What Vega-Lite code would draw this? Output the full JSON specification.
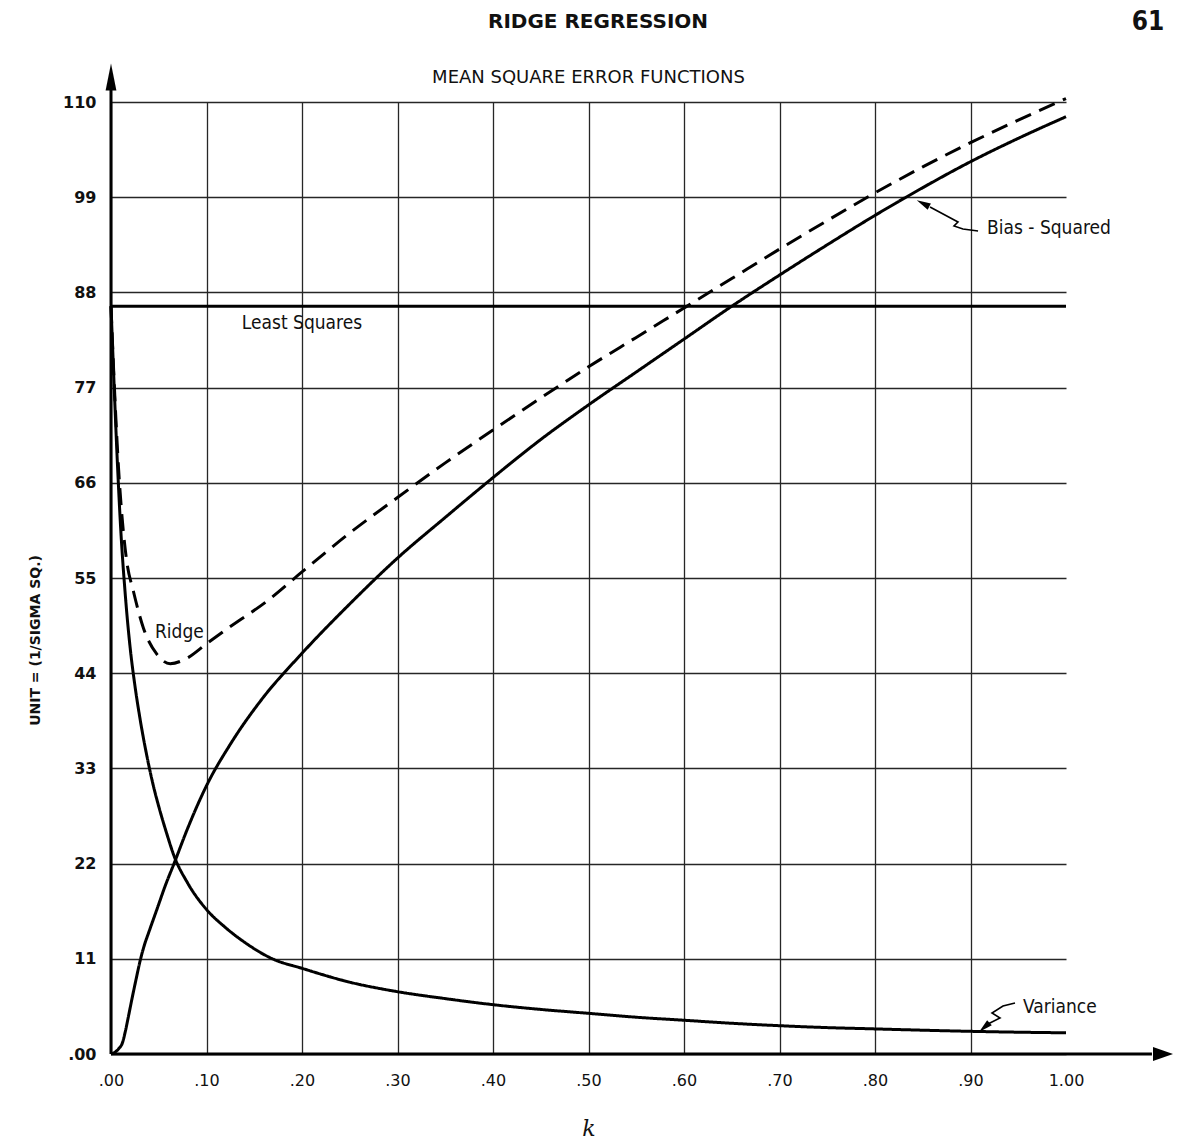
{
  "$schema": "https://vega.github.io/schema/vega-lite/v6.json",
  "width": 955,
  "height": 952,
  "autosize": {"type": "none"},
  "padding": {"left": 111, "top": 102, "right": 137, "bottom": 93},
  "background": "white",
  "config": {"view": {"stroke": null}},
  "title": {
    "text": "MEAN SQUARE ERROR FUNCTIONS",
    "frame": "group",
    "anchor": "middle",
    "offset": -78,
    "font": "DejaVu Sans",
    "fontSize": 18,
    "fontWeight": "normal",
    "color": "#111"
  },
  "datasets": {
    "curves": [
      {"series": "Least Squares", "k": 0, "v": 86.4},
      {"series": "Least Squares", "k": 1.0, "v": 86.4},
      {"series": "Variance", "k": 0, "v": 86.4},
      {"series": "Variance", "k": 0.003, "v": 78},
      {"series": "Variance", "k": 0.006, "v": 70},
      {"series": "Variance", "k": 0.01, "v": 61},
      {"series": "Variance", "k": 0.015, "v": 53},
      {"series": "Variance", "k": 0.02, "v": 47},
      {"series": "Variance", "k": 0.025, "v": 42.6},
      {"series": "Variance", "k": 0.03, "v": 39},
      {"series": "Variance", "k": 0.038, "v": 34.2},
      {"series": "Variance", "k": 0.045, "v": 30.7},
      {"series": "Variance", "k": 0.05, "v": 28.6},
      {"series": "Variance", "k": 0.058, "v": 25.6},
      {"series": "Variance", "k": 0.066, "v": 22.9},
      {"series": "Variance", "k": 0.08, "v": 19.8},
      {"series": "Variance", "k": 0.1, "v": 16.7},
      {"series": "Variance", "k": 0.12, "v": 14.6},
      {"series": "Variance", "k": 0.14, "v": 12.9},
      {"series": "Variance", "k": 0.169, "v": 11},
      {"series": "Variance", "k": 0.2, "v": 9.9},
      {"series": "Variance", "k": 0.25, "v": 8.3},
      {"series": "Variance", "k": 0.3, "v": 7.2},
      {"series": "Variance", "k": 0.35, "v": 6.4},
      {"series": "Variance", "k": 0.4, "v": 5.7},
      {"series": "Variance", "k": 0.45, "v": 5.15},
      {"series": "Variance", "k": 0.5, "v": 4.7},
      {"series": "Variance", "k": 0.55, "v": 4.25},
      {"series": "Variance", "k": 0.6, "v": 3.9},
      {"series": "Variance", "k": 0.65, "v": 3.55},
      {"series": "Variance", "k": 0.7, "v": 3.27},
      {"series": "Variance", "k": 0.75, "v": 3.05},
      {"series": "Variance", "k": 0.8, "v": 2.9},
      {"series": "Variance", "k": 0.85, "v": 2.75},
      {"series": "Variance", "k": 0.9, "v": 2.62},
      {"series": "Variance", "k": 0.95, "v": 2.52},
      {"series": "Variance", "k": 1.0, "v": 2.45},
      {"series": "Bias-Squared", "k": 0, "v": 0},
      {"series": "Bias-Squared", "k": 0.004, "v": 0.2},
      {"series": "Bias-Squared", "k": 0.008, "v": 0.6},
      {"series": "Bias-Squared", "k": 0.012, "v": 1.3},
      {"series": "Bias-Squared", "k": 0.015, "v": 2.6},
      {"series": "Bias-Squared", "k": 0.018, "v": 4.2},
      {"series": "Bias-Squared", "k": 0.022, "v": 6.4},
      {"series": "Bias-Squared", "k": 0.026, "v": 8.5},
      {"series": "Bias-Squared", "k": 0.031, "v": 11},
      {"series": "Bias-Squared", "k": 0.035, "v": 12.6},
      {"series": "Bias-Squared", "k": 0.04, "v": 14.2},
      {"series": "Bias-Squared", "k": 0.049, "v": 17},
      {"series": "Bias-Squared", "k": 0.057, "v": 19.5},
      {"series": "Bias-Squared", "k": 0.066, "v": 22},
      {"series": "Bias-Squared", "k": 0.08, "v": 26},
      {"series": "Bias-Squared", "k": 0.1, "v": 31},
      {"series": "Bias-Squared", "k": 0.125, "v": 35.8},
      {"series": "Bias-Squared", "k": 0.158, "v": 41},
      {"series": "Bias-Squared", "k": 0.2, "v": 46.3},
      {"series": "Bias-Squared", "k": 0.25, "v": 52},
      {"series": "Bias-Squared", "k": 0.3, "v": 57.3},
      {"series": "Bias-Squared", "k": 0.35, "v": 62},
      {"series": "Bias-Squared", "k": 0.4, "v": 66.6},
      {"series": "Bias-Squared", "k": 0.45, "v": 71},
      {"series": "Bias-Squared", "k": 0.5, "v": 75},
      {"series": "Bias-Squared", "k": 0.55, "v": 78.8},
      {"series": "Bias-Squared", "k": 0.6, "v": 82.6},
      {"series": "Bias-Squared", "k": 0.65, "v": 86.4},
      {"series": "Bias-Squared", "k": 0.7, "v": 90},
      {"series": "Bias-Squared", "k": 0.75, "v": 93.5},
      {"series": "Bias-Squared", "k": 0.8, "v": 96.9},
      {"series": "Bias-Squared", "k": 0.85, "v": 100.1},
      {"series": "Bias-Squared", "k": 0.9, "v": 103.1},
      {"series": "Bias-Squared", "k": 0.95, "v": 105.8},
      {"series": "Bias-Squared", "k": 1.0, "v": 108.3},
      {"series": "Ridge", "k": 0, "v": 86.4},
      {"series": "Ridge", "k": 0.004, "v": 76},
      {"series": "Ridge", "k": 0.008, "v": 67.5},
      {"series": "Ridge", "k": 0.012, "v": 61.5},
      {"series": "Ridge", "k": 0.0164, "v": 57},
      {"series": "Ridge", "k": 0.0234, "v": 53.5},
      {"series": "Ridge", "k": 0.034, "v": 49.2},
      {"series": "Ridge", "k": 0.048, "v": 46.2},
      {"series": "Ridge", "k": 0.062, "v": 45.1},
      {"series": "Ridge", "k": 0.079, "v": 45.7},
      {"series": "Ridge", "k": 0.1, "v": 47.4},
      {"series": "Ridge", "k": 0.125, "v": 49.4},
      {"series": "Ridge", "k": 0.163, "v": 52.3},
      {"series": "Ridge", "k": 0.2, "v": 55.7},
      {"series": "Ridge", "k": 0.25, "v": 60.2},
      {"series": "Ridge", "k": 0.3, "v": 64.3},
      {"series": "Ridge", "k": 0.35, "v": 68.3},
      {"series": "Ridge", "k": 0.4, "v": 72.1},
      {"series": "Ridge", "k": 0.45, "v": 75.8},
      {"series": "Ridge", "k": 0.5, "v": 79.4},
      {"series": "Ridge", "k": 0.55, "v": 82.8},
      {"series": "Ridge", "k": 0.6, "v": 86.2},
      {"series": "Ridge", "k": 0.65, "v": 89.6},
      {"series": "Ridge", "k": 0.7, "v": 93},
      {"series": "Ridge", "k": 0.75, "v": 96.3},
      {"series": "Ridge", "k": 0.8, "v": 99.5},
      {"series": "Ridge", "k": 0.85, "v": 102.5},
      {"series": "Ridge", "k": 0.9, "v": 105.3},
      {"series": "Ridge", "k": 0.95, "v": 107.9},
      {"series": "Ridge", "k": 1.0, "v": 110.4}
    ],
    "leaders": [
      {"leader": "bias", "ord": 1, "k": 0.8576, "v": 97.86},
      {"leader": "bias", "ord": 2, "k": 0.8869, "v": 96.13},
      {"leader": "bias", "ord": 3, "k": 0.8827, "v": 95.67},
      {"leader": "bias", "ord": 4, "k": 0.8921, "v": 95.32},
      {"leader": "bias", "ord": 5, "k": 0.9079, "v": 95.09},
      {"leader": "variance", "ord": 1, "k": 0.9466, "v": 5.89},
      {"leader": "variance", "ord": 2, "k": 0.934, "v": 5.55},
      {"leader": "variance", "ord": 3, "k": 0.9225, "v": 4.74},
      {"leader": "variance", "ord": 4, "k": 0.9309, "v": 4.16},
      {"leader": "variance", "ord": 5, "k": 0.9183, "v": 3.47},
      {"leader": "variance", "ord": 6, "k": 0.9141, "v": 3.12}
    ],
    "labels": [
      {"label": "Least Squares", "k": 0.137, "v": 84.5},
      {"label": "Ridge", "k": 0.046, "v": 48.8},
      {"label": "Bias - Squared", "k": 0.9173, "v": 95.44},
      {"label": "Variance", "k": 0.955, "v": 5.43}
    ],
    "header": [
      {"label": "RIDGE REGRESSION", "k": 0.51, "v": 119.24}
    ],
    "page": [
      {"label": "61", "k": 1.086, "v": 119.24}
    ]
  },
  "layer": [
    {
      "data": {"name": "curves"},
      "mark": {"type": "line", "color": "black", "strokeWidth": 3, "interpolate": "monotone"},
      "encoding": {
        "x": {
          "field": "k",
          "type": "quantitative",
          "scale": {"domain": [0, 1], "nice": false, "zero": false},
          "axis": {
            "title": "k",
            "values": [0, 0.1, 0.2, 0.3, 0.4, 0.5, 0.6, 0.7, 0.8, 0.9, 1.0],
            "labelExpr": "replace(format(datum.value, '.2f'), '0.', '.')",
            "grid": true,
            "gridColor": "#262626",
            "gridWidth": 1.3,
            "gridOpacity": {"condition": {"test": "datum.value > 0.95", "value": 0}, "value": 1},
            "domain": false,
            "ticks": false,
            "labelPadding": 18,
            "labelFlush": false,
            "labelOverlap": false,
            "labelBound": false,
            "labelFont": "DejaVu Sans",
            "labelFontSize": 16,
            "labelColor": "#111",
            "titleFont": "DejaVu Serif",
            "titleFontStyle": "italic",
            "titleFontWeight": "normal",
            "titleFontSize": 22,
            "titleColor": "#111",
            "titlePadding": 30
          }
        },
        "y": {
          "field": "v",
          "type": "quantitative",
          "scale": {"domain": [0, 110], "nice": false, "zero": false},
          "axis": {
            "title": "UNIT = (1/SIGMA SQ.)",
            "values": [0, 11, 22, 33, 44, 55, 66, 77, 88, 99, 110],
            "labelExpr": "datum.value == 0 ? '.00' : datum.label",
            "grid": true,
            "gridColor": "#262626",
            "gridWidth": 1.3,
            "domain": false,
            "ticks": false,
            "labelPadding": 15,
            "labelOverlap": false,
            "labelBound": false,
            "labelFlush": false,
            "labelFont": "DejaVu Sans",
            "labelFontSize": 16,
            "labelFontWeight": "bold",
            "labelColor": "#111",
            "titleFont": "DejaVu Sans",
            "titleFontSize": 14,
            "titleFontWeight": "bold",
            "titleColor": "#111",
            "titleX": -76,
            "titleY": 538,
            "titleAngle": 270,
            "titleAlign": "center",
            "titleBaseline": "middle"
          }
        },
        "detail": {"field": "series"},
        "strokeDash": {
          "field": "series",
          "type": "nominal",
          "scale": {"domain": ["Ridge", "Variance", "Bias-Squared", "Least Squares"], "range": [[17, 9], [1, 0], [1, 0], [1, 0]]},
          "legend": null
        }
      }
    },
    {
      "data": {"values": [{"part": "vertical axis line"}]},
      "mark": {"type": "rule", "color": "black", "strokeWidth": 3, "clip": false},
      "encoding": {
        "x": {"datum": 0},
        "y": {"datum": 0},
        "y2": {"datum": 112.5}
      }
    },
    {
      "data": {"values": [{"part": "horizontal axis line"}]},
      "mark": {"type": "rule", "color": "black", "strokeWidth": 3, "clip": false},
      "encoding": {
        "x": {"datum": 0},
        "x2": {"datum": 1.09},
        "y": {"datum": 0}
      }
    },
    {
      "data": {"values": [{"part": "vertical axis arrow"}]},
      "mark": {"type": "point", "shape": "M0,-1L0.4,1L-0.4,1Z", "size": 729, "filled": true, "color": "black", "opacity": 1, "strokeWidth": 0, "clip": false},
      "encoding": {
        "x": {"datum": 0},
        "y": {"datum": 112.9}
      }
    },
    {
      "data": {"values": [{"part": "horizontal axis arrow"}]},
      "mark": {"type": "point", "shape": "M1,0L-1,0.7L-1,-0.7Z", "size": 400, "filled": true, "color": "black", "opacity": 1, "strokeWidth": 0, "clip": false},
      "encoding": {
        "x": {"datum": 1.1016},
        "y": {"datum": 0}
      }
    },
    {
      "data": {"name": "leaders"},
      "mark": {"type": "line", "color": "black", "strokeWidth": 1.6, "clip": false},
      "encoding": {
        "x": {"field": "k", "type": "quantitative"},
        "y": {"field": "v", "type": "quantitative"},
        "detail": {"field": "leader"},
        "order": {"field": "ord", "type": "quantitative"}
      }
    },
    {
      "data": {"values": [{"part": "bias leader arrow"}]},
      "mark": {"type": "point", "shape": "M0,-1L0.5,1L-0.5,1Z", "size": 196, "filled": true, "color": "black", "opacity": 1, "strokeWidth": 0, "angle": 297},
      "encoding": {
        "x": {"datum": 0.8503},
        "y": {"datum": 98.27}
      }
    },
    {
      "data": {"values": [{"part": "variance leader arrow"}]},
      "mark": {"type": "point", "shape": "M0,-1L0.5,1L-0.5,1Z", "size": 196, "filled": true, "color": "black", "opacity": 1, "strokeWidth": 0, "angle": 228},
      "encoding": {
        "x": {"datum": 0.9144},
        "y": {"datum": 3.07}
      }
    },
    {
      "data": {"name": "labels"},
      "mark": {"type": "text", "align": "left", "baseline": "middle", "font": "DejaVu Sans Condensed", "fontSize": 19, "color": "#111", "clip": false},
      "encoding": {
        "x": {"field": "k", "type": "quantitative"},
        "y": {"field": "v", "type": "quantitative"},
        "text": {"field": "label"}
      }
    },
    {
      "data": {"name": "header"},
      "mark": {"type": "text", "align": "center", "baseline": "middle", "font": "DejaVu Sans", "fontWeight": "bold", "fontSize": 20, "color": "#111", "clip": false},
      "encoding": {
        "x": {"field": "k", "type": "quantitative"},
        "y": {"field": "v", "type": "quantitative"},
        "text": {"field": "label"}
      }
    },
    {
      "data": {"name": "page"},
      "mark": {"type": "text", "align": "center", "baseline": "middle", "font": "DejaVu Sans Condensed", "fontWeight": "bold", "fontSize": 26, "color": "#111", "clip": false},
      "encoding": {
        "x": {"field": "k", "type": "quantitative"},
        "y": {"field": "v", "type": "quantitative"},
        "text": {"field": "label"}
      }
    }
  ]
}
